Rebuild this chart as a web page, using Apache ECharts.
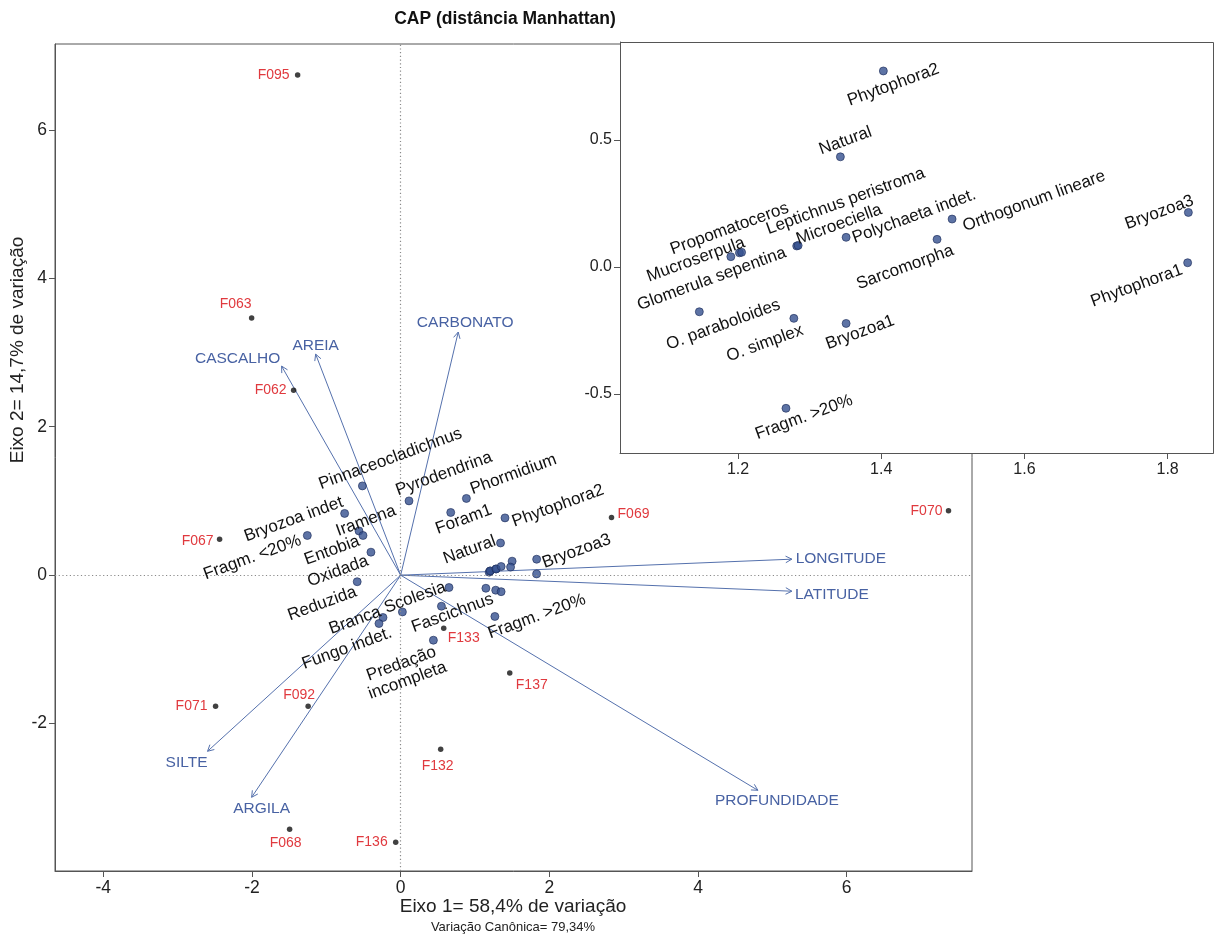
<!DOCTYPE html>
<html><head><meta charset="utf-8">
<script src="https://cdn.jsdelivr.net/npm/echarts@6/dist/echarts.min.js"></script>
<style>html,body{margin:0;padding:0;background:#fff}#c{width:1217px;height:939px}</style>
</head><body><div id="c"></div>
<script>
// ---------------- data ----------------
const siteNames = ['F095','F063','F062','F067','F069','F070','F133','F137','F071','F092','F132','F068','F136'];
const siteX = [-1.386,-2.005,-1.440,-2.436,2.836,7.369,0.579,1.467,-2.490,-1.245,0.538,-1.494,-0.067];
const siteY = [6.739,3.464,2.493,0.485,0.778,0.869,-0.714,-1.317,-1.765,-1.765,-2.345,-3.423,-3.598];

const envNames = ['CARBONATO','AREIA','CASCALHO','LONGITUDE','LATITUDE','PROFUNDIDADE','SILTE','ARGILA'];
const envX = [0.774,-1.144,-1.602,5.262,5.262,4.805,-2.598,-2.005];
const envY = [3.275,2.978,2.817,0.216,-0.216,-2.898,-2.372,-2.992];

const speciesNames = ['Pinnaceocladichnus','Bryozoa indet','Fragm. <20%','Iramena','Entobia','Oxidada','Reduzida',
  'Pyrodendrina','Foram1','Phormidium','Scolesia','Branca','Fungo indet.','Fascichnus','Predação\nincompleta','',
  'Phytophora2','Natural','Bryozoa3','Fragm. >20%','Phytophora1','Propomatoceros','Mucroserpula',
  'Leptichnus peristroma','Glomerula sepentina','Microeciella','Polychaeta indet.','Orthogonum lineare',
  'Sarcomorpha','O. paraboloides','O. simplex','Bryozoa1'];
const speciesX = [-0.515,-0.754,-1.256,-0.561,-0.507,-0.400,-0.585,
  0.112,0.673,0.884,0.650,-0.238,-0.292,0.548,0.440,0.023,
  1.403,1.343,1.829,1.267,1.828,1.202,1.190,
  1.205,1.282,1.284,1.351,1.499,
  1.478,1.146,1.278,1.351];
const speciesY = [1.203,0.832,0.535,0.597,0.535,0.310,-0.088,
  1.001,0.845,1.034,-0.166,-0.570,-0.651,-0.418,-0.876,-0.495,
  0.772,0.434,0.215,-0.556,0.017,0.056,0.041,
  0.058,0.083,0.085,0.117,0.189,
  0.109,-0.176,-0.202,-0.222];

const mainXTicks = [-4,-2,0,2,4,6];
const mainYTicks = [-2,0,2,4,6];
const insetXTicks = [1.2,1.4,1.6,1.8];
const insetYTicks = [-0.5,0,0.5];

const titleText = 'CAP (distância Manhattan)';
const xTitle = 'Eixo 1= 58,4% de variação';
const xSubtitle = 'Variação Canônica= 79,34%';
const yTitle = 'Eixo 2= 14,7% de variação';

// ---------------- layout (pixels, styling only) ----------------
const FONT = '"Liberation Sans", Arial, Helvetica, sans-serif';
const MAIN = {left:55, top:44, width:917, height:827};
const INSET = {left:620, top:42, width:593, height:411};
const ROT = 20;
// label centre offsets [dx, dy] from the point, pixels
const siteNudge = {F095:[-24,0],F063:[-16,-14],F062:[-23,0],F067:[-22,2],F069:[22,-3],F070:[-22,0],
  F133:[20,10],F137:[22,12],F071:[-24,0],F092:[-9,-11],F132:[-3,17],F068:[-4,14],F136:[-24,0]};
const envNudge = {CARBONATO:[7,-9],AREIA:[0,-8],CASCALHO:[-44,-7],LONGITUDE:[49,0],LATITUDE:[40,3],
  PROFUNDIDADE:[19,10],SILTE:[-21,11],ARGILA:[10,11]};
const mainNudge = {'Pinnaceocladichnus':[28,-27],'Bryozoa indet':[-51,6],'Fragm. <20%':[-55,22],'Iramena':[7,-10],
  'Entobia':[-31,15],'Oxidada':[-33,19],'Reduzida':[-35,22],'Pyrodendrina':[35,-27],'Phormidium':[47,-24],
  'Foram1':[13,7],'Phytophora2':[53,-12],'Natural':[-31,7],'Bryozoa3':[40,-8],'Fragm. >20%':[42,0],
  'Scolesia':[-34,10],'Branca':[-28,3],'Fungo indet.':[-32,25],'Fascichnus':[11,7],'Predação\nincompleta':[-29,32]};
const insetNudge = {'Phytophora2':[10,14],'Natural':[5,-16],'Propomatoceros':[-10,-24],'Mucroserpula':[-35,3],
  'Leptichnus peristroma':[104,-51],'Glomerula sepentina':[-85,33],'Microeciella':[41,-21],
  'Polychaeta indet.':[68,-21],'Orthogonum lineare':[82,-18],'Sarcomorpha':[-32,28],'Bryozoa3':[-29,0],
  'Phytophora1':[-51,23],'O. paraboloides':[24,13],'O. simplex':[-29,25],'Bryozoa1':[14,9],'Fragm. >20%':[18,9]};

// ---------------- build ----------------
const chart = echarts.init(document.getElementById('c'), null, {renderer:'canvas'});

const siteData = siteNames.map((n,i)=>[siteX[i], siteY[i]]);
const envData = envNames.map((n,i)=>[envX[i], envY[i]]);
const spData = speciesNames.map((n,i)=>[speciesX[i], speciesY[i]]);

function labelList(names, xs, ys, nudge) {
  const out = [];
  names.forEach((n,i)=>{ if (nudge[n]) out.push({x:xs[i], y:ys[i], text:n, dx:nudge[n][0], dy:nudge[n][1]}); });
  return out;
}
function labelSeries(list, axisIdx, color, size, rot, z) {
  return {
    type:'custom', xAxisIndex:axisIdx, yAxisIndex:axisIdx, z:z, clip:false, silent:true,
    data: list.map(d=>[d.x, d.y]),
    renderItem: function(params, api){
      const d = list[params.dataIndex];
      const p = api.coord([api.value(0), api.value(1)]);
      return {type:'text', x:p[0]+d.dx, y:p[1]+d.dy, rotation: rot*Math.PI/180,
        style:{text:d.text, fill:color, font: size+'px '+FONT, align:'center', verticalAlign:'middle', lineHeight:size*1.05}};
    }
  };
}

const arrowColor = '#5571ad';
const arrowSeries = {
  type:'custom', xAxisIndex:0, yAxisIndex:0, z:3, clip:false, silent:true,
  data: envData,
  renderItem: function(params, api){
    const o = api.coord([0,0]);
    const t = api.coord([api.value(0), api.value(1)]);
    const a = Math.atan2(t[1]-o[1], t[0]-o[0]);
    const L = 7, s = 28*Math.PI/180;
    const p1 = [t[0]-L*Math.cos(a-s), t[1]-L*Math.sin(a-s)];
    const p2 = [t[0]-L*Math.cos(a+s), t[1]-L*Math.sin(a+s)];
    return {type:'group', children:[
      {type:'line', shape:{x1:o[0],y1:o[1],x2:t[0],y2:t[1]}, style:{stroke:arrowColor, lineWidth:1}},
      {type:'polyline', shape:{points:[p1,t,p2]}, style:{stroke:arrowColor, lineWidth:1, fill:null}}
    ]};
  },
  markLine: {silent:true, symbol:['none','none'], label:{show:false},
    lineStyle:{type:[1.2,2.5], color:'#8a8a8a', width:1.2},
    data:[{xAxis:0},{yAxis:0}]}
};

function axisCfg(ticks, fs, margin, fmt, extra) {
  return Object.assign({
    type:'value', splitLine:{show:false},
    axisLine:{show:true, onZero:false, lineStyle:{color:'#555', width:1}},
    axisTick:{show:true, inside:false, length:6, customValues:ticks, lineStyle:{color:'#555'}},
    axisLabel:{customValues:ticks, fontSize:fs, color:'#222', fontFamily:FONT, margin:margin, formatter:fmt}
  }, extra);
}

const option = {
  animation:false,
  backgroundColor:'#fff',
  grid:[
    {left:MAIN.left, top:MAIN.top, width:MAIN.width, height:MAIN.height, show:true, borderColor:'#555', borderWidth:1, backgroundColor:'transparent'},
    {left:INSET.left, top:INSET.top, width:INSET.width, height:INSET.height, show:false}
  ],
  xAxis:[
    axisCfg(mainXTicks, 17.5, 8, v=>String(v), {gridIndex:0, min:-4.65, max:7.685}),
    axisCfg(insetXTicks, 16, 9, v=>v.toFixed(1), {gridIndex:1, min:1.0352, max:1.8634, z:30})
  ],
  yAxis:[
    axisCfg(mainYTicks, 17.5, 8, v=>String(v), {gridIndex:0, min:-3.985, max:7.156}),
    axisCfg(insetYTicks, 16, 8, v=>v.toFixed(1), {gridIndex:1, min:-0.732, max:0.886, z:30})
  ],
  graphic:[
    {type:'rect', z:20, silent:true, shape:{x:INSET.left+0.5, y:INSET.top+0.5, width:INSET.width, height:INSET.height},
      style:{fill:'#fff', stroke:'#555', lineWidth:1}},
    {type:'text', z:50, x:505, y:19, style:{text:titleText, font:'bold 17.5px '+FONT, fill:'#111', align:'center', verticalAlign:'middle'}},
    {type:'text', z:50, x:513, y:907, style:{text:xTitle, font:'19px '+FONT, fill:'#222', align:'center', verticalAlign:'middle'}},
    {type:'text', z:50, x:513, y:927, style:{text:xSubtitle, font:'13px '+FONT, fill:'#222', align:'center', verticalAlign:'middle'}},
    {type:'text', z:50, x:18, y:350, rotation:Math.PI/2, style:{text:yTitle, font:'19px '+FONT, fill:'#222', align:'center', verticalAlign:'middle'}}
  ],
  series:[
    arrowSeries,
    {type:'scatter', xAxisIndex:0, yAxisIndex:0, z:4, silent:true, data:spData, symbolSize:8,
      itemStyle:{color:'#34508f', borderColor:'#1c2c5a', borderWidth:0.8}},
    {type:'scatter', xAxisIndex:0, yAxisIndex:0, z:4, silent:true, data:siteData, symbolSize:5.5,
      itemStyle:{color:'#111'}},
    labelSeries(labelList(siteNames, siteX, siteY, siteNudge), 0, '#e0393e', 14, 0, 5),
    labelSeries(labelList(envNames, envX, envY, envNudge), 0, '#4862a3', 15.5, 0, 5),
    labelSeries(labelList(speciesNames, speciesX, speciesY, mainNudge), 0, '#111', 17, ROT, 5),
    {type:'scatter', xAxisIndex:1, yAxisIndex:1, z:40, silent:true, clip:true, data:spData, symbolSize:8,
      itemStyle:{color:'#34508f', borderColor:'#1c2c5a', borderWidth:0.8}},
    labelSeries(labelList(speciesNames, speciesX, speciesY, insetNudge), 1, '#111', 17, ROT, 41)
  ]
};
chart.setOption(option);
</script></body></html>
